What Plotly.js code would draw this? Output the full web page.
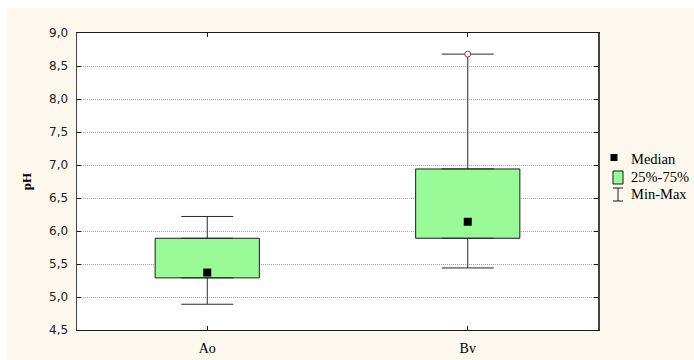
<!DOCTYPE html>
<html>
<head>
<meta charset="utf-8">
<script src="https://cdn.plot.ly/plotly-3.0.1.min.js"></script>
<style>
  html, body { margin: 0; padding: 0; background: #ffffff; width: 694px; height: 360px; overflow: hidden; }
  #chart { position: absolute; left: 7px; top: 8px; width: 687px; height: 352px; }
</style>
</head>
<body>
<div id="chart"></div>
<script>
// ---- data ----
const categories = ['Ao', 'Bv'];
const q1Values = [5.29, 5.89];
const q3Values = [5.89, 6.94];
const medianValues = [5.37, 6.14];
const minValues = [4.89, 5.44];
const maxValues = [6.22, 8.68];
const outlierCategories = ['Bv'];
const outlierValues = [8.68];
const yTickValues = [4.5, 5.0, 5.5, 6.0, 6.5, 7.0, 7.5, 8.0, 8.5, 9.0];
const legendLabels = ['Median', '25%-75%', 'Min-Max'];

// ---- derived ----
const boxHeights = q3Values.map((v, i) => v - q1Values[i]);
const upperLen = maxValues.map((v, i) => v - q3Values[i]);
const lowerLen = q1Values.map((v, i) => v - minValues[i]);
const zeros = categories.map(() => 0);

const serif = 'Liberation Serif, Times New Roman, serif';
const sans = 'DejaVu Sans, Arial, sans-serif';
const ink = '#1a1a1a';

const traces = [
  {
    type: 'bar', x: categories, y: boxHeights, base: q1Values, width: 0.4,
    marker: { color: '#98fb98', line: { color: ink, width: 1 } },
    hoverinfo: 'skip', showlegend: false
  },
  {
    type: 'scatter', mode: 'markers', x: categories, y: q3Values,
    marker: { size: 1, color: 'rgba(0,0,0,0)' },
    error_y: { type: 'data', symmetric: false, array: upperLen, arrayminus: zeros, width: 26, thickness: 1, color: '#2a2a2a' },
    hoverinfo: 'skip', showlegend: false
  },
  {
    type: 'scatter', mode: 'markers', x: categories, y: q1Values,
    marker: { size: 1, color: 'rgba(0,0,0,0)' },
    error_y: { type: 'data', symmetric: false, array: zeros, arrayminus: lowerLen, width: 26, thickness: 1, color: '#2a2a2a' },
    hoverinfo: 'skip', showlegend: false
  },
  {
    type: 'scatter', mode: 'markers', x: categories, y: medianValues,
    marker: { symbol: 'square', size: 8, color: '#000000' },
    hoverinfo: 'skip', showlegend: false
  },
  {
    type: 'scatter', mode: 'markers', x: outlierCategories, y: outlierValues,
    marker: { symbol: 'circle', size: 6, color: '#ffffff', line: { color: '#b03030', width: 1 } },
    hoverinfo: 'skip', showlegend: false
  }
];

// legend (drawn as layout decorations to the right of the plot)
const lgX = 1.0384, txtX = 1.0595;
const shapes = [
  { type: 'rect', xref: 'paper', yref: 'paper', xsizemode: 'pixel', ysizemode: 'pixel',
    xanchor: 1.0307, yanchor: 0.5808, x0: -3.5, x1: 3.5, y0: -3.5, y1: 3.5,
    fillcolor: '#000', line: { width: 0 } },
  { type: 'rect', xref: 'paper', yref: 'paper', xsizemode: 'pixel', ysizemode: 'pixel',
    xanchor: lgX, yanchor: 0.5135, x0: -5, x1: 5, y0: -6.5, y1: 6.5,
    fillcolor: '#98fb98', line: { color: ink, width: 1 } },
  { type: 'line', xref: 'paper', yref: 'paper', xsizemode: 'pixel',
    xanchor: lgX, x0: 0, x1: 0, y0: 0.4343, y1: 0.4781, line: { color: ink, width: 1 } },
  { type: 'line', xref: 'paper', yref: 'paper', xsizemode: 'pixel',
    xanchor: lgX, x0: -5, x1: 5, y0: 0.4781, y1: 0.4781, line: { color: ink, width: 1 } },
  { type: 'line', xref: 'paper', yref: 'paper', xsizemode: 'pixel',
    xanchor: lgX, x0: -5, x1: 5, y0: 0.4343, y1: 0.4343, line: { color: ink, width: 1 } }
];
const legendY = [0.5758, 0.5152, 0.4579];
const annotations = legendLabels.map((t, i) => ({
  text: t, xref: 'paper', yref: 'paper', x: txtX, y: legendY[i],
  xanchor: 'left', yanchor: 'middle', showarrow: false,
  font: { family: serif, size: 14.5, color: '#000' }
}));

const layout = {
  width: 687, height: 352,
  margin: { l: 70, r: 96, t: 25, b: 30 },
  paper_bgcolor: '#fdf8ee',
  plot_bgcolor: '#ffffff',
  separators: ',.',
  showlegend: false,
  bargap: 0,
  xaxis: {
    type: 'category', range: [-0.5, 1.5],
    showline: true, linecolor: ink, linewidth: 1, mirror: 'ticks',
    ticks: 'inside', ticklen: 4, tickcolor: ink,
    showgrid: false, zeroline: false,
    tickfont: { family: serif, size: 14, color: '#000' },
    ticklabelstandoff: 5
  },
  yaxis: {
    range: [4.5, 9.0], tickvals: yTickValues, tickformat: '.1f',
    showline: true, linecolor: '#444', linewidth: 1.5, mirror: 'ticks',
    ticks: 'inside', ticklen: 4, tickcolor: ink,
    showgrid: true, gridcolor: '#a0a0a0', griddash: '1px,1px', gridwidth: 1,
    zeroline: false,
    tickfont: { family: sans, size: 12, color: '#222' },
    ticklabelstandoff: 5,
    title: { text: '<b>pH</b>', font: { family: serif, size: 13, color: '#000' }, standoff: 14 }
  },
  shapes: shapes,
  annotations: annotations
};

Plotly.newPlot('chart', traces, layout, { displayModeBar: false, staticPlot: true });
</script>
</body>
</html>
